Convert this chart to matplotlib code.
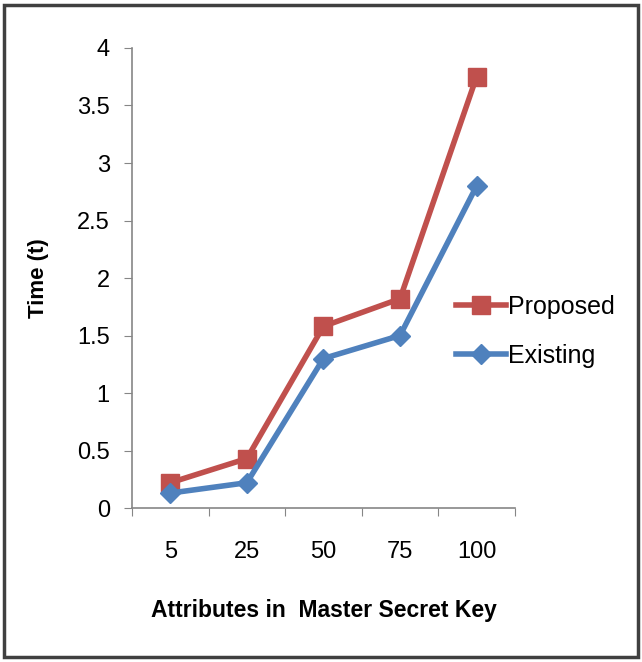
import matplotlib.pyplot as plt
from matplotlib.patches import Rectangle

categories = ['5', '25', '50', '75', '100']
proposed = [0.22, 0.43, 1.58, 1.82, 3.75]
existing = [0.13, 0.22, 1.30, 1.50, 2.80]
y_ticks = [0, 0.5, 1, 1.5, 2, 2.5, 3, 3.5, 4]
y_tick_labels = ['0', '0.5', '1', '1.5', '2', '2.5', '3', '3.5', '4']

plt.rcParams['font.family'] = ['Liberation Sans Narrow', 'Liberation Sans', 'DejaVu Sans']

fig = plt.figure(figsize=(6.42, 6.62), dpi=100)
ax = fig.add_axes([0.2056, 0.2326, 0.5964, 0.6949])

x = list(range(len(categories)))
ax.plot(x, proposed, color='#C0504D', lw=4, marker='s', ms=13, label='Proposed', solid_joinstyle='round')
ax.plot(x, existing, color='#4F81BD', lw=4, marker='D', ms=10, label='Existing', solid_joinstyle='round')

ax.set_xlim(-0.5, 4.5)
ax.set_ylim(0, 4)
ax.set_xticks([i - 0.5 for i in range(len(categories) + 1)])
ax.set_xticklabels([])
ax.set_xticks(x, minor=True)
ax.set_xticklabels(categories, minor=True, fontsize=17)
ax.tick_params(axis='x', which='minor', length=0, pad=24)
ax.tick_params(axis='x', which='major', length=6, color='#868686', direction='out')
ax.set_yticks(y_ticks)
ax.set_yticklabels(y_tick_labels, fontsize=17)
ax.tick_params(axis='y', length=6, color='#868686', direction='out', pad=10)

for side in ['top', 'right']:
    ax.spines[side].set_visible(False)
for side in ['left', 'bottom']:
    ax.spines[side].set_color('#868686')
    ax.spines[side].set_linewidth(1.2)

ax.set_xlabel('Attributes in  Master Secret Key', fontsize=16.5, fontweight='bold', labelpad=26)
ax.set_ylabel('Time (t)', fontsize=16, fontweight='bold', labelpad=20)

fig.legend(loc='center left', bbox_to_anchor=(0.675, 0.499), frameon=False, fontsize=18,
           handlelength=2.0, labelspacing=1.0, handletextpad=0.1)

fig.patches.append(Rectangle((0.007, 0.007), 0.986, 0.986, transform=fig.transFigure,
                             fill=False, edgecolor='#404040', lw=2.5))

fig.savefig('out.png', dpi=100)
